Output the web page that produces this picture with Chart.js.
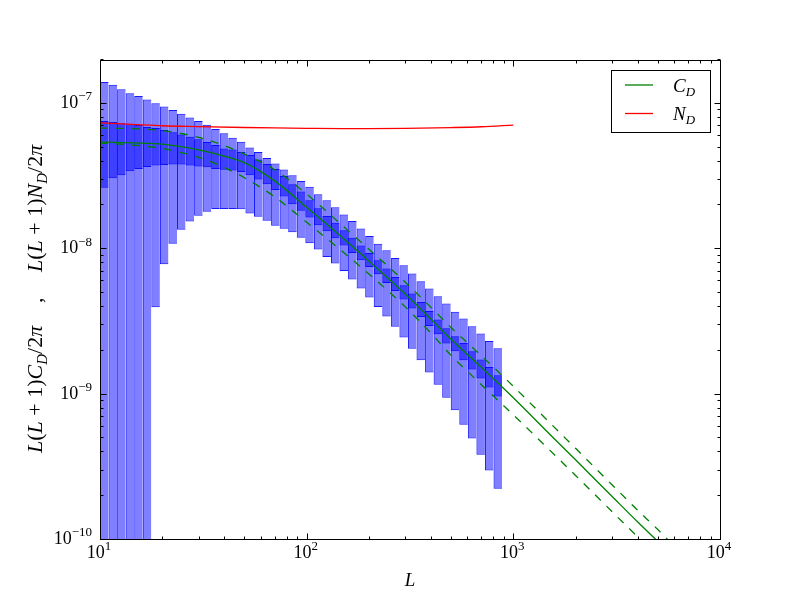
<!DOCTYPE html>
<html>
<head>
<meta charset="utf-8">
<script src="https://cdn.jsdelivr.net/npm/chart.js@4.4.1/dist/chart.umd.min.js"></script>
<style>
  html, body { margin: 0; background: #fff; }
  #wrap { width: 800px; height: 600px; }
</style>
</head>
<body>
<div id="wrap"><canvas id="chart" width="800" height="600"></canvas></div>
<script>
"use strict";

// ---- data ----
// bin centres in L (log bins, ratio 1.1 starting at L = 10)
const binL = [10.488, 11.537, 12.691, 13.960, 15.356, 16.892, 18.581, 20.439, 22.483, 24.731,
  27.204, 29.925, 32.917, 36.209, 39.830, 43.813, 48.194, 53.013, 58.315, 64.146,
  70.561, 77.617, 85.379, 93.917, 103.31, 113.64, 125.00, 137.50, 151.26, 166.38,
  183.02, 201.32, 221.45, 243.60, 267.96, 294.75, 324.23, 356.65, 392.31, 431.54,
  474.70, 522.17, 574.38, 631.82, 695.00, 764.50, 840.95];

// full error box per bin (upper / lower edge); first bins run below the axis
const boxHi = [1.41e-7, 1.35e-7, 1.26e-7, 1.18e-7, 1.13e-7, 1.07e-7, 1.01e-7, 9.59e-8, 9.06e-8, 8.53e-8,
  8.04e-8, 7.60e-8, 7.16e-8, 6.70e-8, 6.27e-8, 5.83e-8, 5.48e-8, 5.01e-8, 4.66e-8, 4.23e-8,
  3.89e-8, 3.53e-8, 3.23e-8, 2.94e-8, 2.69e-8, 2.39e-8, 2.17e-8, 1.94e-8, 1.73e-8, 1.56e-8,
  1.39e-8, 1.23e-8, 1.09e-8, 9.84e-9, 8.71e-9, 7.76e-9, 6.80e-9, 6.03e-9, 5.36e-9, 4.74e-9,
  4.23e-9, 3.72e-9, 3.33e-9, 2.95e-9, 2.63e-9, 2.34e-9, 2.08e-9];
const boxLo = [1e-11, 1e-11, 1e-11, 1e-11, 1e-11, 1e-11, 3.99e-9, 7.88e-9, 1.09e-8, 1.36e-8,
  1.55e-8, 1.70e-8, 1.81e-8, 1.89e-8, 1.89e-8, 1.89e-8, 1.88e-8, 1.76e-8, 1.67e-8, 1.57e-8,
  1.45e-8, 1.38e-8, 1.31e-8, 1.20e-8, 1.10e-8, 9.95e-9, 8.85e-9, 7.96e-9, 7.08e-9, 6.18e-9,
  5.36e-9, 4.65e-9, 4.01e-9, 3.44e-9, 2.93e-9, 2.47e-9, 2.07e-9, 1.72e-9, 1.42e-9, 1.17e-9,
  9.53e-10, 7.80e-10, 6.21e-10, 4.98e-10, 3.86e-10, 3.01e-10, 2.25e-10];

// inner (smaller) error box per bin
const coreHi = [7.60e-8, 7.48e-8, 7.36e-8, 7.24e-8, 7.14e-8, 6.92e-8, 6.81e-8, 6.59e-8, 6.38e-8, 6.14e-8,
  5.93e-8, 5.71e-8, 5.45e-8, 5.20e-8, 4.93e-8, 4.84e-8, 4.66e-8, 4.44e-8, 4.13e-8, 3.85e-8,
  3.56e-8, 3.18e-8, 2.80e-8, 2.49e-8, 2.17e-8, 1.91e-8, 1.69e-8, 1.52e-8, 1.35e-8, 1.20e-8,
  1.06e-8, 9.42e-9, 8.40e-9, 7.36e-9, 6.44e-9, 5.65e-9, 4.95e-9, 4.34e-9, 3.76e-9, 3.28e-9,
  2.86e-9, 2.52e-9, 2.26e-9, 1.99e-9, 1.74e-9, 1.55e-9, 1.36e-9];
const coreLo = [2.65e-8, 3.08e-8, 3.23e-8, 3.44e-8, 3.56e-8, 3.68e-8, 3.77e-8, 3.80e-8, 3.82e-8, 3.82e-8,
  3.76e-8, 3.71e-8, 3.66e-8, 3.56e-8, 3.52e-8, 3.47e-8, 3.39e-8, 3.23e-8, 3.01e-8, 2.80e-8,
  2.55e-8, 2.30e-8, 2.04e-8, 1.84e-8, 1.65e-8, 1.46e-8, 1.33e-8, 1.19e-8, 1.06e-8, 9.42e-9,
  8.40e-9, 7.55e-9, 6.73e-9, 5.86e-9, 5.16e-9, 4.51e-9, 3.91e-9, 3.42e-9, 2.96e-9, 2.60e-9,
  2.25e-9, 1.99e-9, 1.72e-9, 1.49e-9, 1.29e-9, 1.12e-9, 9.72e-10];

// theory curve C_D and its two dashed variants
const curveL = [10, 12, 15, 20, 30, 40, 50, 70, 100, 150, 200, 300, 400, 500, 700, 1000, 1500, 2000, 3000, 4000, 5000, 6000];
const cD = [5.45e-8, 5.42e-8, 5.38e-8, 5.27e-8, 4.82e-8, 4.37e-8, 3.94e-8, 2.95e-8, 1.94e-8, 1.19e-8, 8.30e-9,
  4.92e-9, 3.30e-9, 2.40e-9, 1.54e-9, 9.50e-10, 5.34e-10, 3.56e-10, 2.00e-10, 1.33e-10, 9.8e-11, 7.6e-11];
const cDUp = [6.81e-8, 6.78e-8, 6.73e-8, 6.54e-8, 5.88e-8, 5.15e-8, 4.51e-8, 3.52e-8, 2.39e-8, 1.44e-8, 1.00e-8,
  5.93e-9, 3.97e-9, 2.89e-9, 1.85e-9, 1.14e-9, 6.41e-10, 4.27e-10, 2.40e-10, 1.60e-10, 1.18e-10, 9.1e-11];
const cDDown = [5.37e-8, 5.30e-8, 5.17e-8, 4.93e-8, 4.28e-8, 3.64e-8, 3.10e-8, 2.29e-8, 1.53e-8, 9.57e-9, 6.75e-9,
  4.01e-9, 2.64e-9, 1.86e-9, 1.17e-9, 7.26e-10, 4.15e-10, 2.78e-10, 1.57e-10, 1.05e-10, 7.7e-11, 6.0e-11];

// noise curve N_D
const nL = [10, 15, 20, 30, 50, 70, 100, 150, 200, 300, 500, 700, 1000];
const nD = [7.39e-8, 7.19e-8, 7.06e-8, 6.97e-8, 6.87e-8, 6.82e-8, 6.78e-8, 6.75e-8, 6.75e-8, 6.78e-8, 6.86e-8, 6.95e-8, 7.14e-8];

// axes
const xRange = [10, 1e4];
const yRange = [1e-10, 2e-7];
const xMajorExp = [1, 2, 3, 4];
const yMajorExp = [-10, -9, -8, -7];

const GREEN = "#008000";
const RED = "#ff0000";
const SERIF = '"Liberation Serif", "DejaVu Serif", serif';

const pts = (xs, ys) => xs.map((x, i) => ({ x, y: ys[i] }));
const boxes = (lo, hi) => binL.map((x, i) => ({ x, y: [lo[i], hi[i]] }));

// ---- small mathtext-ish writer: parts = [{t, it, s: "sub"|"sup"}] ----
function partFont(p, size) {
  const sz = p.s ? Math.round(size * 0.7) : size;
  return (p.it ? "italic " : "") + sz + "px " + SERIF;
}
function richWidth(ctx, parts, size) {
  let w = 0;
  for (const p of parts) { ctx.font = partFont(p, size); w += ctx.measureText(p.t).width; }
  return w;
}
function drawRich(ctx, parts, x, y, size, align) {
  const w = richWidth(ctx, parts, size);
  let cx = align === "center" ? x - w / 2 : align === "right" ? x - w : x;
  ctx.textAlign = "left";
  ctx.textBaseline = "alphabetic";
  for (const p of parts) {
    ctx.font = partFont(p, size);
    const dy = p.s === "sub" ? size * 0.22 : p.s === "sup" ? -size * 0.42 : 0;
    ctx.fillText(p.t, cx, y + dy);
    cx += ctx.measureText(p.t).width;
  }
}
const pow10 = (e) => [{ t: "10" }, { t: String(e).replace("-", "\u2212"), s: "sup" }];

const yLabelC = [
  { t: "L", it: 1 }, { t: "(" }, { t: "L", it: 1 }, { t: " + 1)" }, { t: "C", it: 1 }, { t: "D", it: 1, s: "sub" },
  { t: "/2" }, { t: "\u03c0", it: 1 },
];
const yLabelN = [
  { t: "L", it: 1 }, { t: "(" }, { t: "L", it: 1 }, { t: " + 1)" }, { t: "N", it: 1 }, { t: "D", it: 1, s: "sub" },
  { t: "/2" }, { t: "\u03c0", it: 1 },
];
const legendItems = [
  { color: GREEN, parts: [{ t: "C", it: 1 }, { t: "D", it: 1, s: "sub" }] },
  { color: RED, parts: [{ t: "N", it: 1 }, { t: "D", it: 1, s: "sub" }] },
];

// ---- frame, inward ticks, labels and legend (classic matplotlib look) ----
const frame = {
  id: "frame",
  afterDraw(chart) {
    const { ctx, chartArea: a, scales: { x, y } } = chart;
    const L = Math.round(a.left) + 0.5, R = Math.round(a.right) + 0.5;
    const T = Math.round(a.top) + 0.5, B = Math.round(a.bottom) - 0.5;
    ctx.save();
    ctx.strokeStyle = "#000";
    ctx.fillStyle = "#000";
    ctx.lineWidth = 1;
    const seg = (x1, y1, x2, y2) => { ctx.beginPath(); ctx.moveTo(x1, y1); ctx.lineTo(x2, y2); ctx.stroke(); };

    for (let e = xMajorExp[0]; e <= xMajorExp[xMajorExp.length - 1]; e++) {
      for (let m = 1; m <= 9; m++) {
        const v = m * Math.pow(10, e);
        if (v > xRange[1] * 1.0001) break;
        const px = Math.round(x.getPixelForValue(v)) + 0.5;
        const len = m === 1 ? 6 : 3;
        seg(px, B, px, B - len);
        seg(px, T, px, T + len);
      }
    }
    for (let e = yMajorExp[0]; e <= yMajorExp[yMajorExp.length - 1]; e++) {
      for (let m = 1; m <= 9; m++) {
        const v = m * Math.pow(10, e);
        if (v > yRange[1] * 1.0001) break;
        const py = Math.round(y.getPixelForValue(v)) - 0.5;
        const len = m === 1 ? 6 : 3;
        seg(L, py, L + len, py);
        seg(R, py, R - len, py);
      }
    }
    ctx.strokeRect(L, T, R - L, B - T);

    // tick labels
    for (const e of xMajorExp) {
      drawRich(ctx, pow10(e), x.getPixelForValue(Math.pow(10, e)) - 1, a.bottom + 18, 18, "center");
    }
    for (const e of yMajorExp) {
      drawRich(ctx, pow10(e), a.left - 8, y.getPixelForValue(Math.pow(10, e)) + 4, 18, "right");
    }

    // axis titles
    drawRich(ctx, [{ t: "L", it: 1 }], (a.left + a.right) / 2, 586, 19, "center");
    ctx.save();
    ctx.translate(42, a.top + 393);
    ctx.rotate(-Math.PI / 2);
    drawRich(ctx, yLabelC, 0, 0, 22, "left");
    drawRich(ctx, [{ t: "," }], 150, 0, 22, "left");
    drawRich(ctx, yLabelN, 181, 0, 22, "left");
    ctx.restore();

    // legend
    const lx = 611.5, ly = 70.5, lw = 99, lh = 62;
    ctx.fillStyle = "#fff";
    ctx.fillRect(lx, ly, lw, lh);
    ctx.strokeStyle = "#000";
    ctx.strokeRect(lx, ly, lw, lh);
    legendItems.forEach((it, i) => {
      const yy = 85 + i * 28.5;
      ctx.strokeStyle = it.color;
      ctx.lineWidth = 1.3;
      seg(625, yy, 653, yy);
      ctx.fillStyle = "#000";
      drawRich(ctx, it.parts, 673, yy + 6.5, 19, "left");
    });
    ctx.restore();
  },
};

const boxStyle = {
  type: "bar",
  backgroundColor: "rgba(0,0,255,0.5)",
  borderColor: "rgba(0,0,255,0.9)",
  borderWidth: { left: 1, top: 1, bottom: 1, right: 0 },
  borderSkipped: false,
  grouped: false,
  barPercentage: 1,
  categoryPercentage: 1,
  inflateAmount: 0,
  clip: 0,
};
const lineStyle = {
  type: "line",
  borderWidth: 1.3,
  pointRadius: 0,
  pointHoverRadius: 0,
  fill: false,
  cubicInterpolationMode: "monotone",
  clip: 0,
  order: 0,
};

new Chart(document.getElementById("chart"), {
  type: "bar",
  data: {
    datasets: [
      { ...lineStyle, label: "C_D", data: pts(curveL, cD), borderColor: GREEN },
      { ...lineStyle, label: "C_D upper", data: pts(curveL, cDUp), borderColor: GREEN, borderDash: [8, 8] },
      { ...lineStyle, label: "C_D lower", data: pts(curveL, cDDown), borderColor: GREEN, borderDash: [8, 8] },
      { ...lineStyle, label: "N_D", data: pts(nL, nD), borderColor: RED },
      { ...boxStyle, label: "inner error", data: boxes(coreLo, coreHi), order: 1 },
      { ...boxStyle, label: "total error", data: boxes(boxLo, boxHi), order: 2 },
    ],
  },
  options: {
    responsive: false,
    devicePixelRatio: 1,
    animation: false,
    events: [],
    layout: { padding: { left: 100, right: 80, top: 60, bottom: 60 } },
    plugins: { legend: { display: false }, tooltip: { enabled: false } },
    scales: {
      x: { type: "logarithmic", min: xRange[0], max: xRange[1], display: false, offset: false, bounds: "data",
           ticks: { autoSkip: false } },
      y: { type: "logarithmic", min: yRange[0], max: yRange[1], display: false, bounds: "data" },
    },
  },
  plugins: [frame],
});
</script>
</body>
</html>
